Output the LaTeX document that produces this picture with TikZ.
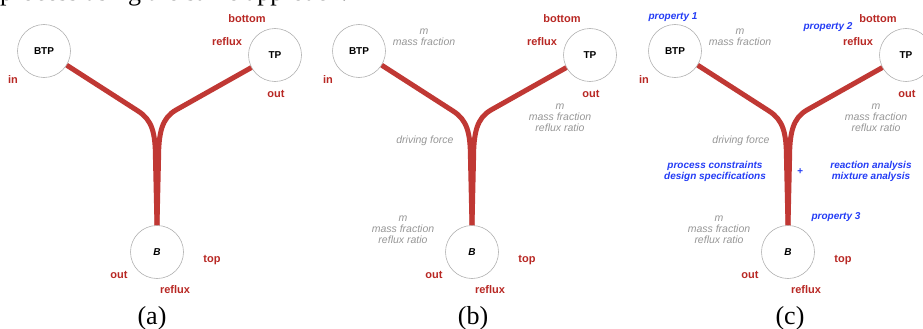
\documentclass[tikz,border=0pt]{standalone}
\usepackage{fontspec}
\setmainfont{Liberation Serif}
\newfontfamily\lsans{Liberation Sans}
\definecolor{flowred}{RGB}{192,56,52}
\definecolor{labred}{RGB}{184,40,36}
\definecolor{labgrey}{RGB}{150,150,150}
\definecolor{labblue}{RGB}{35,60,245}
\tikzset{
  unit/.style={circle, draw=black!30, line width=0.6pt, fill=white, minimum size=53pt, inner sep=0pt,
    font=\lsans\bfseries\fontsize{10}{12}\selectfont},
  redlab/.style={text=labred, font=\lsans\bfseries\fontsize{11}{12}\selectfont, inner sep=0pt},
  greylab/.style={text=labgrey, font=\lsans\itshape\fontsize{10.5}{11}\selectfont, align=center, inner sep=0pt},
  bluelab/.style={text=labblue, font=\lsans\bfseries\itshape\fontsize{10}{11}\selectfont, align=center, inner sep=0pt},
  flow/.style={draw=flowred, line width=5pt},
  captext/.style={font=\fontsize{26}{30}\selectfont, inner sep=0pt, anchor=base},
}
\newcommand\ybase[1]{%
  \node[unit] (btp#1) at (44,51) {BTP};
  \node[unit] (tp#1) at (275,55) {TP};
  \node[unit] (b#1) at (157,252) {\itshape B};
  \draw[flow] (btp#1.-32) -- (138,111) .. controls (152,120) and (155.5,132) .. (155.5,160) -- (b#1.north);
  \draw[flow] (tp#1.-152) -- (176,110) .. controls (162,118) and (158.5,132) .. (158.5,160) -- (b#1.north);
  \node[redlab] (in#1) at (13,80) {in};
  \node[redlab] (bottom#1) at (247,19) {bottom};
  \node[redlab] (refluxt#1) at (227,42) {reflux};
  \node[redlab] (outt#1) at (276,94) {out};
  \node[redlab] (top#1) at (212,260) {top};
  \node[redlab] (outb#1) at (119,275) {out};
  \node[redlab] (refluxb#1) at (175,290) {reflux};
}
\newcommand\ygrey[1]{%
  \node[greylab] (gbtp#1) at (109,37.5) {m\\mass fraction};
  \node[greylab] (gtp#1) at (245,118) {m\\mass fraction\\reflux ratio};
  \node[greylab] (gdf#1) at (110,141) {driving force};
  \node[greylab] (gb#1) at (88,230) {m\\mass fraction\\reflux ratio};
}
\begin{document}
\begin{tikzpicture}[x=1pt,y=-1pt]
  \useasboundingbox (0,0) rectangle (923,329);
  \clip (0,0) rectangle (923,329);
  \node[anchor=base west, font=\fontsize{26}{30}\selectfont, inner sep=0pt] (toptext) at (0,1) {process using the same approach.};
  \begin{scope}
    \ybase{a}
  \end{scope}
  \begin{scope}[xshift=315pt]
    \ybase{b}
    \ygrey{b}
  \end{scope}
  \begin{scope}[xshift=631pt]
    \ybase{c}
    \ygrey{c}
    \node[bluelab] (p1) at (42,17) {property 1};
    \node[bluelab] (p2) at (197,27) {property 2};
    \node[bluelab] (pc) at (84,171.5) {process constraints\\design specifications};
    \node[bluelab] (plus) at (169,172) {+};
    \node[bluelab] (ra) at (240,171.5) {reaction analysis\\mixture analysis};
    \node[bluelab] (p3) at (205,217) {property 3};
  \end{scope}
  \node[captext] (capa) at (152,324) {(a)};
  \node[captext] (capb) at (473,324) {(b)};
  \node[captext] (capc) at (790,324) {(c)};
\end{tikzpicture}
\end{document}
